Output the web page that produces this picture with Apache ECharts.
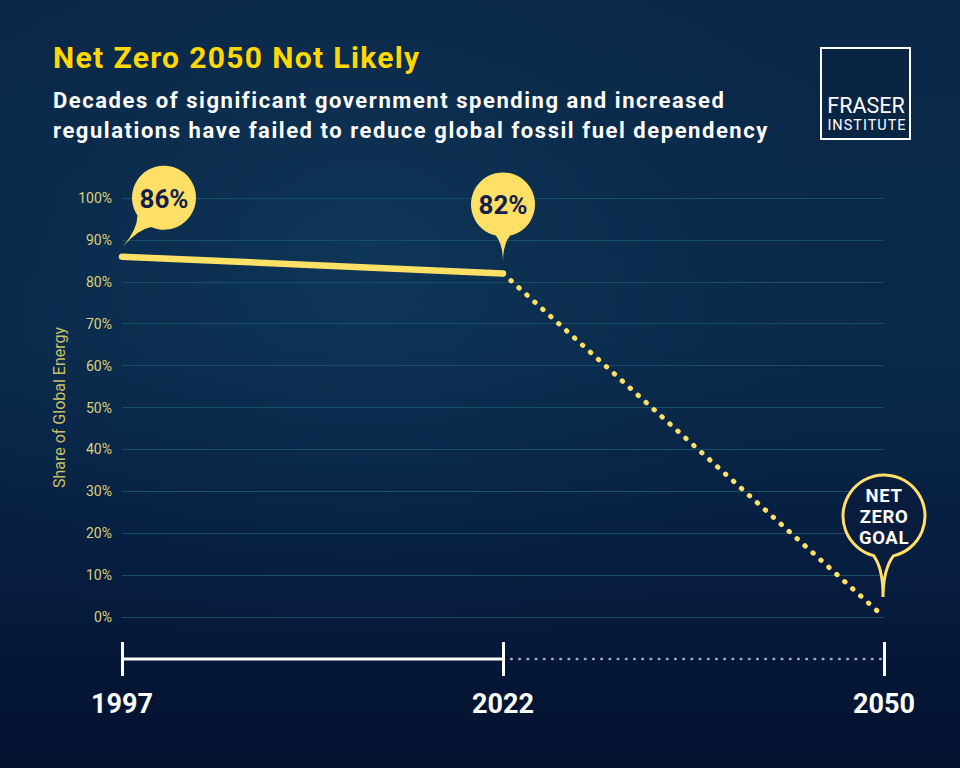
<!DOCTYPE html>
<html>
<head>
<meta charset="utf-8">
<script src="https://cdn.jsdelivr.net/npm/echarts@6/dist/echarts.min.js"></script>
<style>
html,body{margin:0;padding:0;background:#061a3a;}
#chart{width:960px;height:768px;}
#chart text[style*="30px"]{letter-spacing:1.35px;}
#chart text[style*="22px"]{letter-spacing:1.55px;}
#chart text[style*="14.5px"]{letter-spacing:1px;}
#chart text[style*="18.5px"]{letter-spacing:0.6px;}
</style>
</head>
<body>
<div id="chart"></div>
<script>
// ---- data ----
const years = ['1997', '2022', '2050'];
const historicalShare = [86, 82, null];
const pathToGoal = [null, 82, 0];
const timelinePast = [0, 0, null];
const timelineFuture = [null, 0, 0];
const calloutTexts = ['86%', '82%', 'NET\nZERO\nGOAL'];
const titleText = 'Net Zero 2050 Not Likely';
const subtitleText = 'Decades of significant government spending and increased\nregulations have failed to reduce global fossil fuel dependency';
const yAxisName = 'Share of Global Energy';
const logoLines = ['FRASER', 'INSTITUTE'];

const FONT = 'Roboto, "Noto Sans", sans-serif';
const YELLOW = '#ffe066';

// speech-bubble shape: circle with a tapered tail
const Bubble = echarts.graphic.extendShape({
  shape: {cx: 0, cy: 0, r: 10, tx: 0, ty: 20, half: 15},
  buildPath: function (ctx, s) {
    const phi = Math.atan2(s.ty - s.cy, s.tx - s.cx);
    const w = s.half * Math.PI / 180;
    const a1 = phi - w, a2 = phi + w;
    const L = Math.hypot(s.tx - s.cx, s.ty - s.cy);
    const k = s.r + 0.3 * (L - s.r);
    const qx = s.cx + k * Math.cos(phi), qy = s.cy + k * Math.sin(phi);
    ctx.moveTo(s.cx + s.r * Math.cos(a2), s.cy + s.r * Math.sin(a2));
    ctx.arc(s.cx, s.cy, s.r, a2, a1 + Math.PI * 2, false);
    ctx.quadraticCurveTo(qx, qy, s.tx, s.ty);
    ctx.quadraticCurveTo(qx, qy, s.cx + s.r * Math.cos(a2), s.cy + s.r * Math.sin(a2));
    ctx.closePath();
  }
});
echarts.graphic.registerShape('bubble', Bubble);

const chart = echarts.init(document.getElementById('chart'), null, {renderer: 'svg'});

chart.setOption({
  backgroundColor: {
    type: 'linear', x: 0, y: 0, x2: 0, y2: 1,
    colorStops: [
      {offset: 0, color: '#0b2747'},
      {offset: 0.45, color: '#0a2a4b'},
      {offset: 0.8, color: '#061a3c'},
      {offset: 1, color: '#03112e'}
    ]
  },
  animation: false,
  title: [
    {
      text: titleText, left: 53, top: 42, padding: 0,
      textStyle: {color: '#ffd800', fontFamily: FONT, fontWeight: 'bold', fontSize: 30}
    },
    {
      text: subtitleText, left: 53, top: 85, padding: 0,
      textStyle: {color: '#ffffff', fontFamily: FONT, fontWeight: 'bold', fontSize: 22, lineHeight: 30}
    }
  ],
  grid: [
    {left: 122, right: 76, top: 198, height: 419},
    {left: 122, right: 76, top: 642, height: 34}
  ],
  xAxis: [
    {
      type: 'category', data: years, boundaryGap: false, gridIndex: 0,
      axisLine: {show: false}, axisTick: {show: false}, axisLabel: {show: false}, splitLine: {show: false}
    },
    {
      type: 'category', data: years, boundaryGap: false, gridIndex: 1,
      axisLine: {show: false}, axisTick: {show: false}, splitLine: {show: false},
      axisLabel: {color: '#ffffff', fontFamily: FONT, fontWeight: 'bold', fontSize: 27, margin: 14}
    }
  ],
  yAxis: [
    {
      type: 'value', min: 0, max: 100, interval: 10, gridIndex: 0,
      name: yAxisName, nameLocation: 'middle', nameRotate: 90, nameGap: 42,
      nameTextStyle: {color: '#c9bf66', fontFamily: FONT, fontSize: 16},
      axisLine: {show: false}, axisTick: {show: false},
      axisLabel: {color: '#ddd27a', fontFamily: FONT, fontSize: 14, margin: 10, formatter: '{value}%'},
      splitLine: {lineStyle: {color: '#145067', width: 1}}
    },
    {
      type: 'value', min: -1, max: 1, gridIndex: 1, show: false
    }
  ],
  series: [
    {
      type: 'line', xAxisIndex: 0, yAxisIndex: 0, data: pathToGoal,
      symbol: 'none', silent: true,
      lineStyle: {color: YELLOW, width: 5, type: [0.5, 10.2], cap: 'round'}
    },
    {
      type: 'line', xAxisIndex: 0, yAxisIndex: 0, data: historicalShare,
      symbol: 'none', silent: true,
      lineStyle: {color: YELLOW, width: 6.5, cap: 'round'}
    },
    {
      type: 'line', xAxisIndex: 1, yAxisIndex: 1, data: timelineFuture,
      symbol: 'none', silent: true,
      lineStyle: {color: '#a3adc0', width: 2.6, type: [0.5, 7.7], cap: 'round'}
    },
    {
      type: 'line', xAxisIndex: 1, yAxisIndex: 1, data: timelinePast,
      symbol: 'none', silent: true,
      lineStyle: {color: '#ffffff', width: 3},
      markLine: {
        silent: true, symbol: 'none', label: {show: false},
        lineStyle: {color: '#ffffff', width: 3, type: 'solid'},
        data: years.map(function (y) { return {xAxis: y}; })
      }
    }
  ]
});

// anchor points from the chart's own scales
const pA = chart.convertToPixel({gridIndex: 0}, [years[0], historicalShare[0]]);
const pB = chart.convertToPixel({gridIndex: 0}, [years[1], historicalShare[1]]);
const pC = chart.convertToPixel({gridIndex: 0}, [years[2], pathToGoal[2]]);

const bubbles = [
  {p: pA, dx: 42, dy: -59, r: 32, tx: 1, ty: -10, half: 16, fill: YELLOW, stroke: null, text: calloutTexts[0], color: '#14204a', size: 26, lh: 26},
  {p: pB, dx: 0, dy: -69, r: 32, tx: 0, ty: -11, half: 13, fill: YELLOW, stroke: null, text: calloutTexts[1], color: '#14204a', size: 26, lh: 26},
  {p: pC, dx: 0, dy: -101, r: 41, tx: -1, ty: -20, half: 14, fill: '#0a1c3e', stroke: YELLOW, text: calloutTexts[2], color: '#ffffff', size: 18.5, lh: 21}
];

const graphics = [
  {
    type: 'rect', z: -10, silent: true,
    shape: {x: 0, y: 0, width: 960, height: 768},
    style: {
      fill: {
        type: 'radial', x: 0.38, y: 0.33, r: 0.55,
        colorStops: [
          {offset: 0, color: 'rgba(20,70,105,0.45)'},
          {offset: 0.6, color: 'rgba(15,55,90,0.18)'},
          {offset: 1, color: 'rgba(10,40,70,0)'}
        ]
      }
    }
  },
  {
    type: 'rect', silent: true,
    shape: {x: 821, y: 48, width: 89, height: 91},
    style: {fill: 'rgba(6,26,54,0.25)', stroke: '#ffffff', lineWidth: 2}
  },
  {
    type: 'text', silent: true,
    style: {text: logoLines[0], x: 866, y: 105, align: 'center', verticalAlign: 'middle',
      fill: '#ffffff', font: '21.5px ' + FONT}
  },
  {
    type: 'text', silent: true,
    style: {text: logoLines[1], x: 867, y: 125, align: 'center', verticalAlign: 'middle',
      fill: '#ffffff', font: '14.5px ' + FONT}
  }
];

bubbles.forEach(function (b) {
  const cx = b.p[0] + b.dx, cy = b.p[1] + b.dy;
  graphics.push({
    type: 'bubble', silent: true, z: 10,
    shape: {cx: cx, cy: cy, r: b.r, tx: b.p[0] + b.tx, ty: b.p[1] + b.ty, half: b.half},
    style: {fill: b.fill, stroke: b.stroke || 'none', lineWidth: b.stroke ? 3 : 0}
  });
  graphics.push({
    type: 'text', silent: true, z: 11,
    style: {text: b.text, x: cx, y: cy + 1, align: 'center', verticalAlign: 'middle',
      fill: b.color, font: 'bold ' + b.size + 'px ' + FONT, lineHeight: b.lh}
  });
});

chart.setOption({graphic: graphics});
</script>
</body>
</html>
